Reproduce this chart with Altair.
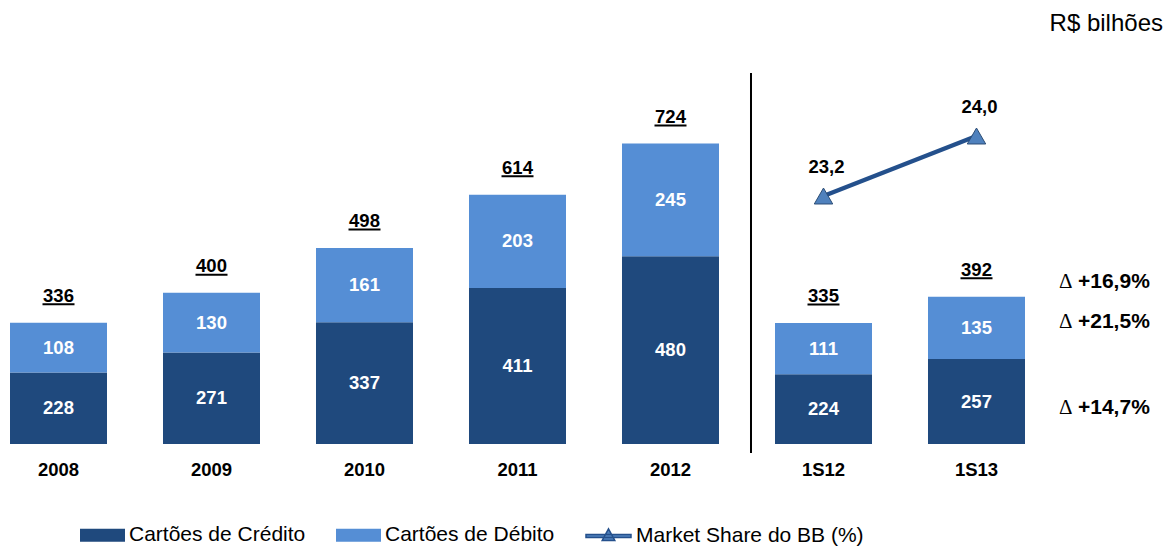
import altair as alt
import pandas as pd

# ---- data ----
categories = ["2008", "2009", "2010", "2011", "2012", "1S12", "1S13"]
credito = [228, 271, 337, 411, 480, 224, 257]
debito = [108, 130, 161, 203, 245, 111, 135]
totais = [336, 400, 498, 614, 724, 335, 392]
share_cats = ["1S12", "1S13"]
share = [23.2, 24.0]
deltas = ["+16,9%", "+21,5%", "+14,7%"]
series = ["Cartões de Crédito", "Cartões de Débito"]
share_name = "Market Share do BB (%)"
unit_label = "R$ bilhões"

# ---- style ----
DARK = "#1F497D"
LIGHT = "#558ED5"
LINE = "#24508C"
TRI = "#4F81BD"
FONT = "Liberation Sans"
Y_MIN, Y_MAX = 72.5, 1019.3
S_MIN, S_MAX = 19.893, 25.707
W, H = 1157, 436

rows = []
for c, cr, db in zip(categories, credito, debito):
    rows.append(dict(cat=c, serie=series[0], valor=cr, ordem=0, mid=(Y_MIN + cr) / 2, label=str(cr)))
    rows.append(dict(cat=c, serie=series[1], valor=db, ordem=1, mid=cr + db / 2, label=str(db)))
bars_df = pd.DataFrame(rows)
tot_df = pd.DataFrame({"cat": categories, "total": totais, "label": [str(t) for t in totais]})
share_df = pd.DataFrame({
    "cat": share_cats,
    "share": share,
    "label": [f"{v:.1f}".replace(".", ",") for v in share],
    "serie": [share_name] * len(share),
})

x_scale = alt.Scale(domain=categories, range=[2, 1017], paddingInner=0.366, paddingOuter=0)
y_scale = alt.Scale(domain=[Y_MIN, Y_MAX], zero=False, nice=False)
s_scale = alt.Scale(domain=[S_MIN, S_MAX], zero=False, nice=False)
X = alt.X("cat:N", scale=x_scale, axis=None)

bars = alt.Chart(bars_df).mark_bar(clip=True).encode(
    x=X,
    y=alt.Y("valor:Q", stack="zero", scale=y_scale, axis=None),
    fill=alt.Fill(
        "serie:N",
        scale=alt.Scale(domain=series, range=[DARK, LIGHT]),
        legend=alt.Legend(
            title=None, orient="none", legendX=72, legendY=504.5, direction="horizontal",
            symbolType="M-1,-0.29H1V0.29H-1Z", symbolSize=2025, symbolStrokeWidth=0,
            labelFont=FONT, labelFontSize=21, labelColor="black", labelOffset=4,
            labelLimit=500, columnPadding=30, padding=0, symbolOpacity=1,
        ),
    ),
    order=alt.Order("ordem:Q"),
)

seg_text = alt.Chart(bars_df).mark_text(
    color="white", font=FONT, fontSize=18.5, fontWeight="bold", baseline="middle"
).encode(x=X, y=alt.Y("mid:Q", scale=y_scale, axis=None), text="label:N")

tot_text = alt.Chart(tot_df).mark_text(
    color="black", font=FONT, fontSize=18.5, fontWeight="bold", baseline="alphabetic", dy=-21
).encode(x=X, y=alt.Y("total:Q", scale=y_scale, axis=None), text="label:N")

underline = alt.Chart(tot_df).mark_tick(
    color="black", size=32, thickness=2, yOffset=-18.5, orient="horizontal", opacity=1
).encode(x=X, y=alt.Y("total:Q", scale=y_scale, axis=None))

xlab = alt.Chart(tot_df).mark_text(
    color="black", font=FONT, fontSize=18.5, fontWeight="bold", baseline="alphabetic"
).encode(x=X, y=alt.value(467.6), text="cat:N")

sep = alt.Chart(pd.DataFrame({"cat": [share_cats[0]]})).mark_rule(
    color="black", strokeWidth=2, xOffset=-24
).encode(
    x=alt.X("cat:N", scale=x_scale, axis=None, bandPosition=0),
    y=alt.value(65), y2=alt.value(445),
)

unit = alt.Chart(pd.DataFrame({"t": [unit_label]})).mark_text(
    align="right", baseline="alphabetic", font=FONT, fontSize=24, color="black"
).encode(text="t:N", x=alt.value(1155), y=alt.value(23))

delta_layers = []
for lab, yb in zip(deltas, [280, 320, 405.5]):
    d = pd.DataFrame({"t": ["Δ"], "v": [lab]})
    delta_layers.append(
        alt.Chart(d).mark_text(align="left", baseline="alphabetic", font="Liberation Serif",
                               fontSize=21, color="black")
        .encode(text="t:N", x=alt.value(1051), y=alt.value(yb))
    )
    delta_layers.append(
        alt.Chart(d).mark_text(align="left", baseline="alphabetic", font=FONT, fontSize=21,
                               fontWeight="bold", color="black")
        .encode(text="v:N", x=alt.value(1070), y=alt.value(yb))
    )

SY = alt.Y("share:Q", scale=s_scale, axis=None)
line = alt.Chart(share_df).mark_line(strokeWidth=4.5).encode(
    x=X, y=SY,
    stroke=alt.Stroke(
        "serie:N",
        scale=alt.Scale(domain=[share_name], range=[LINE]),
        legend=alt.Legend(
            title=None, orient="none", legendX=577, legendY=504.5, direction="horizontal",
            symbolType="M-1,-0.07H1V0.07H-1Z M0,-0.32L0.28,0.2H-0.28Z", symbolSize=2025,
            symbolFillColor=TRI, symbolStrokeWidth=1.5,
            labelFont=FONT, labelFontSize=21, labelColor="black", labelOffset=4,
            labelLimit=500, padding=0,
        ),
    ),
)
points = alt.Chart(share_df).mark_point(
    shape="triangle-up", size=340, filled=True, fill=TRI, stroke="#2C4D75", strokeWidth=1, opacity=1
).encode(x=X, y=SY)
share_text = alt.Chart(share_df).mark_text(
    color="black", font=FONT, fontSize=18.5, fontWeight="bold", baseline="middle", dx=3, dy=-29
).encode(x=X, y=SY, text="label:N")

left = alt.layer(bars, seg_text, underline, tot_text, xlab, sep, unit, *delta_layers)
right = alt.layer(line, points, share_text)

chart = alt.layer(left, right).resolve_scale(y="independent").properties(
    width=W, height=H,
    autosize=alt.AutoSizeParams(type="none"),
    padding={"left": 0, "top": 0, "right": 0, "bottom": 103},
).configure_view(stroke=None)

chart.save("out.html", embed_options={"renderer": "svg", "actions": False})
